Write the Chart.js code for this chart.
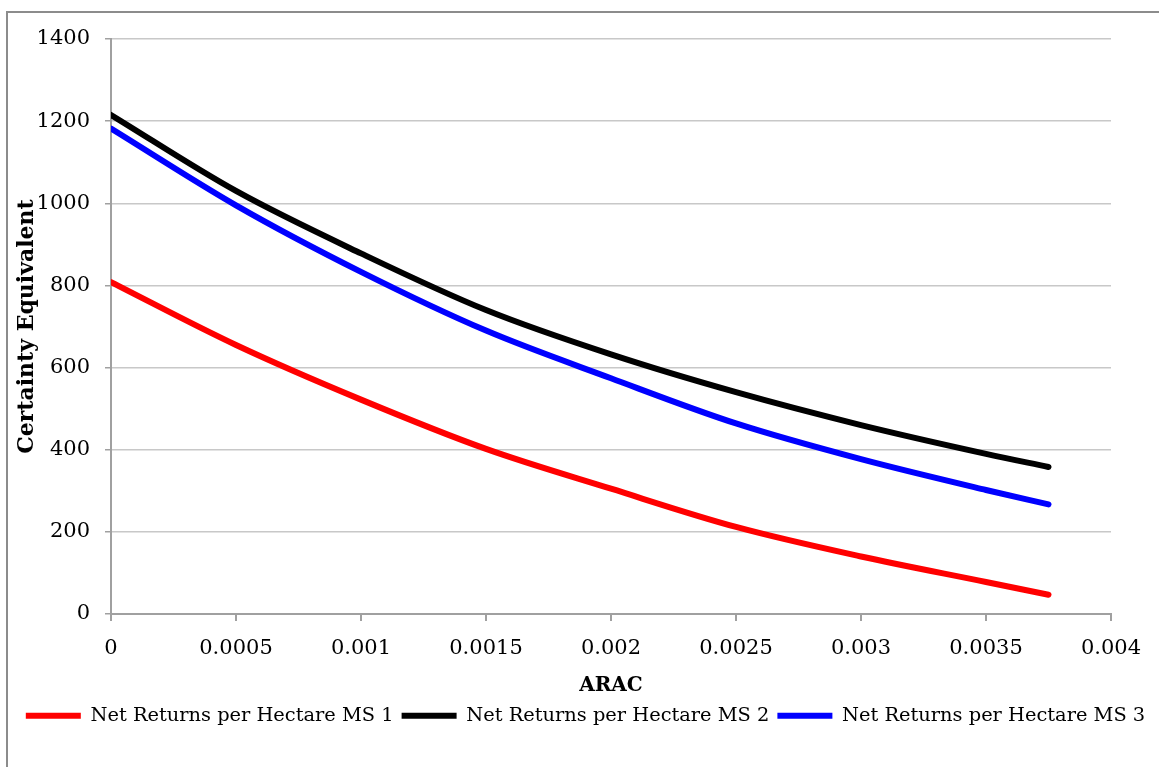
<!DOCTYPE html>
<html lang="en">
<head>
  <meta charset="UTF-8">
  <title>Certainty Equivalent vs ARAC</title>
  <script src="https://cdn.jsdelivr.net/npm/chart.js@4.4.1/dist/chart.umd.min.js"></script>
  <style>
    html, body { margin: 0; padding: 0; background: #fff; }
    #wrap { width: 1159px; height: 767px; }
  </style>
</head>
<body>
  <div id="wrap"><canvas id="myChart" width="1159" height="767"></canvas></div>

  <script>
    // values
    const arac = [0, 0.0005, 0.001, 0.0015, 0.002, 0.0025, 0.003, 0.0035, 0.00375];
    const ms1 = [808, 655, 522, 402, 305, 212, 140, 78, 47];
    const ms2 = [1215, 1030, 878, 740, 632, 540, 460, 390, 358];
    const ms3 = [1182, 995, 833, 690, 574, 464, 377, 302, 267];

    const seriesNames = ['Net Returns per Hectare MS 1', 'Net Returns per Hectare MS 2', 'Net Returns per Hectare MS 3'];
    const xTickLabels = ['0', '0.0005', '0.001', '0.0015', '0.002', '0.0025', '0.003', '0.0035', '0.004'];
    const yTickLabels = ['0', '200', '400', '600', '800', '1000', '1200', '1400'];

    const FONT = '"DejaVu Serif", "Liberation Serif", serif';

    function pts(ys) {
      return ys.map((y, i) => ({ x: arac[i], y: y }));
    }

    function line(label, ys, color) {
      return {
        label: label,
        data: pts(ys),
        borderColor: color,
        backgroundColor: color,
        borderWidth: 6,
        borderCapStyle: 'round',
        pointRadius: 0,
        cubicInterpolationMode: 'monotone',
        fill: false
      };
    }

    // grey frame round the whole chart, like the spreadsheet export
    const frame = {
      id: 'frame',
      afterDraw(chart) {
        const c = chart.ctx;
        c.save();
        c.strokeStyle = '#8c8c8c';
        c.lineWidth = 2;
        c.strokeRect(7, 12, chart.width + 20, chart.height + 20);
        c.restore();
      }
    };

    const ctx = document.getElementById('myChart').getContext('2d');
    new Chart(ctx, {
      type: 'line',
      data: {
        datasets: [
          line(seriesNames[0], ms1, '#ff0000'),
          line(seriesNames[1], ms2, '#000000'),
          line(seriesNames[2], ms3, '#0000ff')
        ]
      },
      plugins: [frame],
      options: {
        responsive: false,
        animation: false,
        layout: { padding: { left: 12, right: 0, top: 39, bottom: 31.6 } },
        plugins: {
          tooltip: { enabled: false },
          legend: {
            position: 'bottom',
            labels: {
              usePointStyle: true,
              pointStyle: 'line',
              pointStyleWidth: 55,
              boxHeight: 19,
              padding: 8,
              color: '#000',
              font: { family: FONT, size: 19.4 }
            }
          }
        },
        scales: {
          x: {
            type: 'linear',
            min: 0,
            max: 0.004,
            afterFit(scale) { scale.height = 84; },
            ticks: {
              stepSize: 0.0005,
              color: '#000',
              padding: 15,
              font: { family: FONT, size: 21 },
              callback: (v, i) => xTickLabels[i]
            },
            grid: { drawOnChartArea: false, drawTicks: true, tickLength: 7, tickColor: '#a0a0a0', lineWidth: 2 },
            border: { color: '#a0a0a0', width: 2 },
            title: {
              display: true,
              text: 'ARAC',
              color: '#000',
              padding: { top: 0, bottom: 0 },
              font: { family: FONT, size: 20, weight: 'bold' }
            }
          },
          y: {
            min: 0,
            max: 1400,
            afterFit(scale) { scale.width = 99; },
            ticks: {
              stepSize: 200,
              color: '#000',
              padding: 15,
              font: { family: FONT, size: 21 },
              callback: (v, i) => yTickLabels[i]
            },
            grid: { color: '#c8c8c8', lineWidth: 1.5, tickLength: 6, tickColor: '#a0a0a0' },
            border: { color: '#a0a0a0', width: 2 },
            title: {
              display: true,
              text: 'Certainty Equivalent',
              color: '#000',
              padding: { top: 2, bottom: 0 },
              font: { family: FONT, size: 22, weight: 'bold' }
            }
          },
          // empty right-hand axis, only reserves the margin beside the plot
          gap: {
            type: 'linear',
            position: 'right',
            display: true,
            afterFit(scale) { scale.width = 48; },
            ticks: { display: false },
            grid: { display: false, drawTicks: false },
            border: { display: false }
          }
        }
      }
    });
  </script>
</body>
</html>
